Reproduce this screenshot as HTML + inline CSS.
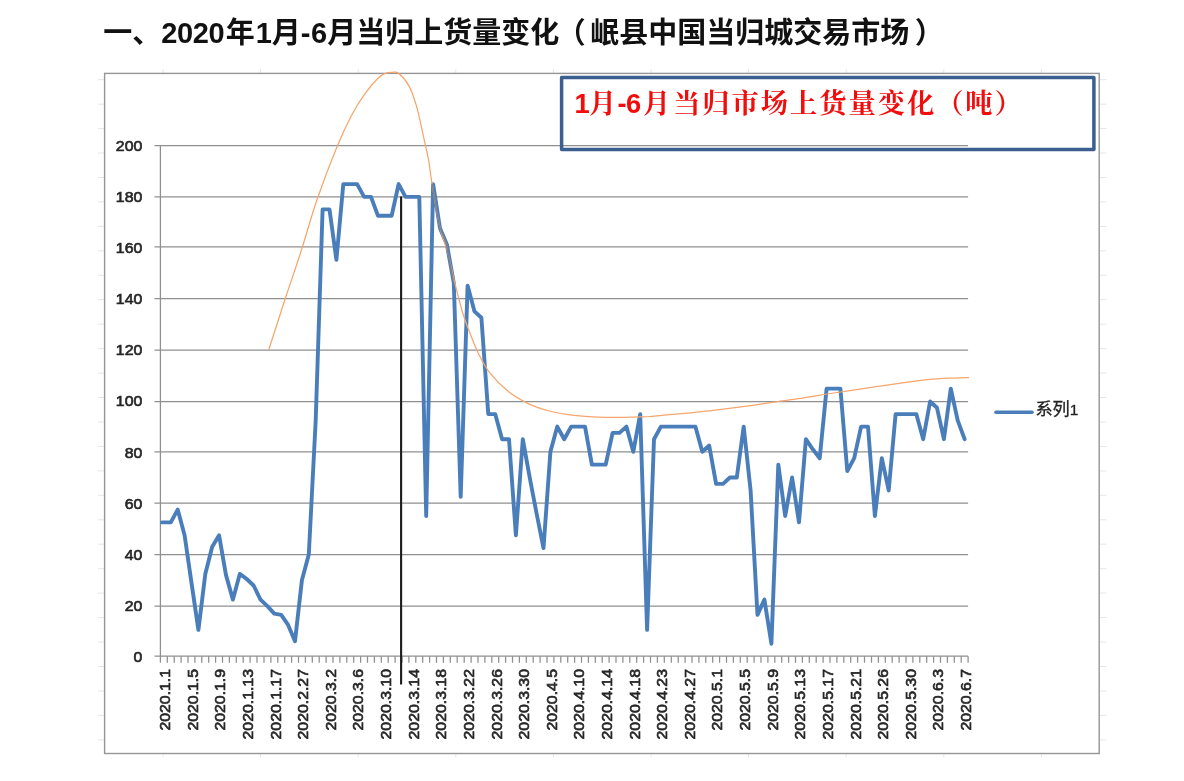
<!DOCTYPE html>
<html lang="zh-CN">
<head>
<meta charset="utf-8">
<title>2020年1月-6月当归上货量变化</title>
<style>
html,body{margin:0;padding:0;background:#fff;}
body{width:1184px;height:781px;overflow:hidden;position:relative;font-family:"Liberation Sans","Noto Sans CJK SC",sans-serif;}
svg{position:absolute;left:0;top:0;display:block;filter:blur(0.4px);}
.title{font-family:"Liberation Sans","Noto Sans CJK SC",sans-serif;font-weight:bold;font-size:29px;fill:#111;}
.ax{font-family:"Liberation Sans","Noto Sans CJK SC",sans-serif;font-size:15px;fill:#262626;stroke:#262626;stroke-width:0.65px;}
.lg{font-family:"Liberation Sans","Noto Sans CJK SC",sans-serif;font-size:17.2px;fill:#222;stroke:#222;stroke-width:0.3px;}
.red{font-family:"Liberation Sans","Noto Serif CJK SC",serif;font-weight:bold;font-size:27.3px;fill:#f20d0d;}
</style>
</head>
<body>
<svg width="1184" height="781" viewBox="0 0 1184 781">
<rect x="0" y="0" width="1184" height="781" fill="#ffffff"/>
<text class="title" x="103.3" y="42.6">一、<tspan letter-spacing="-0.4">2020</tspan><tspan dx="1.6">年</tspan><tspan dx="0.8">1</tspan>月-<tspan dx="0.6">6</tspan>月当归上货量变化<tspan dx="-2.5">（</tspan><tspan dx="4.5">岷</tspan>县中国当归城交易市场<tspan dx="5.5">）</tspan></text>
<g stroke="#e6e6e6" stroke-width="1" fill="none">
<path d="M163.0 69V73M163.0 753V757"/><path d="M260.6 69V73M260.6 753V757"/><path d="M358.2 69V73M358.2 753V757"/><path d="M455.8 69V73M455.8 753V757"/><path d="M553.4 69V73M553.4 753V757"/><path d="M651.0 69V73M651.0 753V757"/><path d="M748.6 69V73M748.6 753V757"/><path d="M846.2 69V73M846.2 753V757"/><path d="M943.8 69V73M943.8 753V757"/><path d="M1041.4 69V73M1041.4 753V757"/>
<path d="M1099 79.7H1106.5M98 79.7H104"/><path d="M1099 104.2H1106.5M98 104.2H104"/><path d="M1099 128.6H1106.5M98 128.6H104"/><path d="M1099 153.0H1106.5M98 153.0H104"/><path d="M1099 177.5H1106.5M98 177.5H104"/><path d="M1099 201.9H1106.5M98 201.9H104"/><path d="M1099 226.4H1106.5M98 226.4H104"/><path d="M1099 250.8H1106.5M98 250.8H104"/><path d="M1099 275.3H1106.5M98 275.3H104"/><path d="M1099 299.7H1106.5M98 299.7H104"/><path d="M1099 324.2H1106.5M98 324.2H104"/><path d="M1099 348.6H1106.5M98 348.6H104"/><path d="M1099 373.1H1106.5M98 373.1H104"/><path d="M1099 397.5H1106.5M98 397.5H104"/><path d="M1099 422.0H1106.5M98 422.0H104"/><path d="M1099 446.4H1106.5M98 446.4H104"/><path d="M1099 470.9H1106.5M98 470.9H104"/><path d="M1099 495.3H1106.5M98 495.3H104"/><path d="M1099 519.8H1106.5M98 519.8H104"/><path d="M1099 544.2H1106.5M98 544.2H104"/><path d="M1099 568.7H1106.5M98 568.7H104"/><path d="M1099 593.1H1106.5M98 593.1H104"/><path d="M1099 617.6H1106.5M98 617.6H104"/><path d="M1099 642.1H1106.5M98 642.1H104"/><path d="M1099 666.5H1106.5M98 666.5H104"/><path d="M1099 691.0H1106.5M98 691.0H104"/><path d="M1099 715.4H1106.5M98 715.4H104"/><path d="M1099 739.9H1106.5M98 739.9H104"/>
</g>
<rect x="104.6" y="73.4" width="994.6" height="680.1" fill="#fff" stroke="#959595" stroke-width="1.4"/>
<g stroke="#8f8f8f" stroke-width="1.25" fill="none">
<path d="M154.5 656.2H968.1"/><path d="M154.5 606.1H968.1"/><path d="M154.5 554.5H968.1"/><path d="M154.5 503.2H968.1"/><path d="M154.5 451.8H968.1"/><path d="M154.5 401.5H968.1"/><path d="M154.5 350.0H968.1"/><path d="M154.5 298.5H968.1"/><path d="M154.5 246.9H968.1"/><path d="M154.5 196.9H968.1"/><path d="M154.5 145.5H968.1"/>
<path d="M160.4 145.5V656.8"/>
<path d="M160.4 656.3v6.5M167.3 656.3v6.5M174.2 656.3v6.5M181.1 656.3v6.5M188.0 656.3v6.5M194.9 656.3v6.5M201.8 656.3v6.5M208.7 656.3v6.5M215.6 656.3v6.5M222.5 656.3v6.5M229.4 656.3v6.5M236.3 656.3v6.5M243.2 656.3v6.5M250.1 656.3v6.5M257.0 656.3v6.5M264.0 656.3v6.5M270.9 656.3v6.5M277.8 656.3v6.5M284.7 656.3v6.5M291.6 656.3v6.5M298.5 656.3v6.5M305.4 656.3v6.5M312.3 656.3v6.5M319.2 656.3v6.5M326.1 656.3v6.5M333.0 656.3v6.5M339.9 656.3v6.5M346.8 656.3v6.5M353.7 656.3v6.5M360.6 656.3v6.5M367.5 656.3v6.5M374.4 656.3v6.5M381.3 656.3v6.5M388.2 656.3v6.5M395.1 656.3v6.5M402.0 656.3v6.5M408.9 656.3v6.5M415.8 656.3v6.5M422.7 656.3v6.5M429.6 656.3v6.5M436.5 656.3v6.5M443.4 656.3v6.5M450.3 656.3v6.5M457.2 656.3v6.5M464.2 656.3v6.5M471.1 656.3v6.5M478.0 656.3v6.5M484.9 656.3v6.5M491.8 656.3v6.5M498.7 656.3v6.5M505.6 656.3v6.5M512.5 656.3v6.5M519.4 656.3v6.5M526.3 656.3v6.5M533.2 656.3v6.5M540.1 656.3v6.5M547.0 656.3v6.5M553.9 656.3v6.5M560.8 656.3v6.5M567.7 656.3v6.5M574.6 656.3v6.5M581.5 656.3v6.5M588.4 656.3v6.5M595.3 656.3v6.5M602.2 656.3v6.5M609.1 656.3v6.5M616.0 656.3v6.5M622.9 656.3v6.5M629.8 656.3v6.5M636.7 656.3v6.5M643.6 656.3v6.5M650.5 656.3v6.5M657.4 656.3v6.5M664.3 656.3v6.5M671.3 656.3v6.5M678.2 656.3v6.5M685.1 656.3v6.5M692.0 656.3v6.5M698.9 656.3v6.5M705.8 656.3v6.5M712.7 656.3v6.5M719.6 656.3v6.5M726.5 656.3v6.5M733.4 656.3v6.5M740.3 656.3v6.5M747.2 656.3v6.5M754.1 656.3v6.5M761.0 656.3v6.5M767.9 656.3v6.5M774.8 656.3v6.5M781.7 656.3v6.5M788.6 656.3v6.5M795.5 656.3v6.5M802.4 656.3v6.5M809.3 656.3v6.5M816.2 656.3v6.5M823.1 656.3v6.5M830.0 656.3v6.5M836.9 656.3v6.5M843.8 656.3v6.5M850.7 656.3v6.5M857.6 656.3v6.5M864.5 656.3v6.5M871.5 656.3v6.5M878.4 656.3v6.5M885.3 656.3v6.5M892.2 656.3v6.5M899.1 656.3v6.5M906.0 656.3v6.5M912.9 656.3v6.5M919.8 656.3v6.5M926.7 656.3v6.5M933.6 656.3v6.5M940.5 656.3v6.5M947.4 656.3v6.5M954.3 656.3v6.5M961.2 656.3v6.5M968.1 656.3v6.5"/>
</g>
<g class="ax" text-anchor="end">
<text x="142.3" y="661.7" textLength="8.8" lengthAdjust="spacingAndGlyphs">0</text><text x="142.3" y="610.6" textLength="17.6" lengthAdjust="spacingAndGlyphs">20</text><text x="142.3" y="559.6" textLength="17.6" lengthAdjust="spacingAndGlyphs">40</text><text x="142.3" y="508.5" textLength="17.6" lengthAdjust="spacingAndGlyphs">60</text><text x="142.3" y="457.5" textLength="17.6" lengthAdjust="spacingAndGlyphs">80</text><text x="142.3" y="406.4" textLength="26.5" lengthAdjust="spacingAndGlyphs">100</text><text x="142.3" y="355.3" textLength="26.5" lengthAdjust="spacingAndGlyphs">120</text><text x="142.3" y="304.3" textLength="26.5" lengthAdjust="spacingAndGlyphs">140</text><text x="142.3" y="253.2" textLength="26.5" lengthAdjust="spacingAndGlyphs">160</text><text x="142.3" y="202.2" textLength="26.5" lengthAdjust="spacingAndGlyphs">180</text><text x="142.3" y="151.1" textLength="26.5" lengthAdjust="spacingAndGlyphs">200</text>
</g>
<g class="ax" text-anchor="end">
<text transform="translate(170.2 669.0) rotate(-90)" textLength="61.5" lengthAdjust="spacingAndGlyphs">2020.1.1</text><text transform="translate(197.8 669.0) rotate(-90)" textLength="61.5" lengthAdjust="spacingAndGlyphs">2020.1.5</text><text transform="translate(225.4 669.0) rotate(-90)" textLength="61.5" lengthAdjust="spacingAndGlyphs">2020.1.9</text><text transform="translate(253.0 669.0) rotate(-90)" textLength="70.5" lengthAdjust="spacingAndGlyphs">2020.1.13</text><text transform="translate(280.6 669.0) rotate(-90)" textLength="70.5" lengthAdjust="spacingAndGlyphs">2020.1.17</text><text transform="translate(308.2 669.0) rotate(-90)" textLength="70.5" lengthAdjust="spacingAndGlyphs">2020.2.27</text><text transform="translate(335.8 669.0) rotate(-90)" textLength="61.5" lengthAdjust="spacingAndGlyphs">2020.3.2</text><text transform="translate(363.4 669.0) rotate(-90)" textLength="61.5" lengthAdjust="spacingAndGlyphs">2020.3.6</text><text transform="translate(391.1 669.0) rotate(-90)" textLength="70.5" lengthAdjust="spacingAndGlyphs">2020.3.10</text><text transform="translate(418.7 669.0) rotate(-90)" textLength="70.5" lengthAdjust="spacingAndGlyphs">2020.3.14</text><text transform="translate(446.3 669.0) rotate(-90)" textLength="70.5" lengthAdjust="spacingAndGlyphs">2020.3.18</text><text transform="translate(473.9 669.0) rotate(-90)" textLength="70.5" lengthAdjust="spacingAndGlyphs">2020.3.22</text><text transform="translate(501.5 669.0) rotate(-90)" textLength="70.5" lengthAdjust="spacingAndGlyphs">2020.3.26</text><text transform="translate(529.1 669.0) rotate(-90)" textLength="70.5" lengthAdjust="spacingAndGlyphs">2020.3.30</text><text transform="translate(556.7 669.0) rotate(-90)" textLength="61.5" lengthAdjust="spacingAndGlyphs">2020.4.5</text><text transform="translate(584.4 669.0) rotate(-90)" textLength="70.5" lengthAdjust="spacingAndGlyphs">2020.4.10</text><text transform="translate(612.0 669.0) rotate(-90)" textLength="70.5" lengthAdjust="spacingAndGlyphs">2020.4.14</text><text transform="translate(639.6 669.0) rotate(-90)" textLength="70.5" lengthAdjust="spacingAndGlyphs">2020.4.18</text><text transform="translate(667.2 669.0) rotate(-90)" textLength="70.5" lengthAdjust="spacingAndGlyphs">2020.4.23</text><text transform="translate(694.8 669.0) rotate(-90)" textLength="70.5" lengthAdjust="spacingAndGlyphs">2020.4.27</text><text transform="translate(722.4 669.0) rotate(-90)" textLength="61.5" lengthAdjust="spacingAndGlyphs">2020.5.1</text><text transform="translate(750.0 669.0) rotate(-90)" textLength="61.5" lengthAdjust="spacingAndGlyphs">2020.5.5</text><text transform="translate(777.7 669.0) rotate(-90)" textLength="61.5" lengthAdjust="spacingAndGlyphs">2020.5.9</text><text transform="translate(805.3 669.0) rotate(-90)" textLength="70.5" lengthAdjust="spacingAndGlyphs">2020.5.13</text><text transform="translate(832.9 669.0) rotate(-90)" textLength="70.5" lengthAdjust="spacingAndGlyphs">2020.5.17</text><text transform="translate(860.5 669.0) rotate(-90)" textLength="70.5" lengthAdjust="spacingAndGlyphs">2020.5.21</text><text transform="translate(888.1 669.0) rotate(-90)" textLength="70.5" lengthAdjust="spacingAndGlyphs">2020.5.26</text><text transform="translate(915.7 669.0) rotate(-90)" textLength="70.5" lengthAdjust="spacingAndGlyphs">2020.5.30</text><text transform="translate(943.3 669.0) rotate(-90)" textLength="61.5" lengthAdjust="spacingAndGlyphs">2020.6.3</text><text transform="translate(970.9 669.0) rotate(-90)" textLength="61.5" lengthAdjust="spacingAndGlyphs">2020.6.7</text>
</g>
<path d="M401.1 196.5V684.4" stroke="#1c1c1c" stroke-width="2.1" fill="none"/>
<polyline points="162.0,522.4 163.9,522.4 170.8,522.4 177.7,509.6 184.6,535.3 191.5,582.9 198.4,629.9 205.3,573.9 212.2,546.8 219.1,535.3 226.0,575.1 232.9,599.6 239.8,573.9 246.7,579.0 253.6,585.5 260.5,599.6 267.4,606.1 274.3,613.6 281.2,614.9 288.1,624.9 295.0,641.2 301.9,580.3 308.8,554.5 315.7,420.4 322.6,209.4 329.5,209.4 336.4,259.8 343.3,184.1 350.2,184.1 357.1,184.1 364.1,196.9 371.0,196.9 377.9,215.7 384.8,215.7 391.7,215.7 398.6,184.1 405.5,196.9 412.4,196.9 419.3,196.9 426.2,516.0 433.1,184.1 440.0,228.2 446.9,244.4 453.8,283.0 460.7,496.8 467.6,285.6 474.5,311.4 481.4,317.8 488.3,414.1 495.2,414.1 502.1,439.2 509.0,439.2 515.9,535.3 522.8,439.2 529.7,477.5 536.6,513.5 543.5,548.1 550.4,451.8 557.3,426.6 564.2,439.2 571.2,426.6 578.1,426.6 585.0,426.6 591.9,464.6 598.8,464.6 605.7,464.6 612.6,432.9 619.5,432.9 626.4,426.6 633.3,451.8 640.2,414.1 647.1,629.9 654.0,439.2 660.9,426.6 667.8,426.6 674.7,426.6 681.6,426.6 688.5,426.6 695.4,426.6 702.3,451.8 709.2,445.5 716.1,483.9 723.0,483.9 729.9,477.5 736.8,477.5 743.7,426.6 750.6,490.4 757.5,614.9 764.4,599.6 771.4,643.7 778.3,464.6 785.2,516.0 792.1,477.5 799.0,522.4 805.9,439.2 812.8,449.3 819.7,458.2 826.6,388.6 833.5,388.6 840.4,388.6 847.3,471.1 854.2,458.2 861.1,426.6 868.0,426.6 874.9,516.0 881.8,458.2 888.7,490.4 895.6,414.1 902.5,414.1 909.4,414.1 916.3,414.1 923.2,439.2 930.1,401.5 937.0,407.8 943.9,439.2 950.8,388.6 957.7,420.4 964.6,439.2" fill="none" stroke="#4a7ebb" stroke-width="3.9" stroke-linejoin="round" stroke-linecap="round"/>
<path d="M268.8 349.8 C271.7 340.8 280.7 312.6 286.1 296.0 C291.6 279.4 296.4 265.9 301.5 249.9 C306.6 233.9 311.0 217.2 316.9 200.0 C322.8 182.8 331.2 160.9 337.1 146.5 C343.0 132.1 347.7 122.7 352.4 113.8 C357.1 104.9 360.9 99.2 365.2 93.3 C369.5 87.4 374.6 81.5 378.0 78.2 C381.4 74.9 383.4 74.2 385.7 73.2 C388.0 72.2 389.9 72.4 392.0 72.4 C394.1 72.4 395.7 71.0 398.5 73.2 C401.3 75.4 405.8 80.1 408.8 85.6 C411.8 91.1 413.9 97.1 416.5 106.1 C419.1 115.1 422.1 130.4 424.1 139.4 C426.1 148.4 427.3 152.6 428.6 160.0 C429.9 167.4 430.2 172.8 432.1 184.0 C434.0 195.2 437.2 215.7 439.8 226.9 C442.4 238.2 444.9 241.9 447.5 251.5 C450.1 261.1 452.6 274.2 455.2 284.5 C457.8 294.8 460.3 305.2 462.9 313.5 C465.4 321.8 467.9 327.8 470.5 334.4 C473.1 341.0 475.0 346.6 478.2 353.0 C481.4 359.4 484.7 366.4 489.8 372.9 C494.9 379.4 502.6 387.0 509.0 392.1 C515.4 397.2 521.8 400.5 528.2 403.6 C534.6 406.7 541.0 408.7 547.4 410.5 C553.8 412.3 560.2 413.4 566.6 414.4 C573.0 415.4 578.8 415.8 585.8 416.3 C592.8 416.8 599.9 417.3 608.9 417.4 C617.9 417.5 632.8 416.9 639.6 416.8 C646.5 416.7 639.7 417.4 650.0 416.5 C660.3 415.6 684.1 413.6 701.2 411.7 C718.3 409.8 739.6 407.0 752.4 405.3 C765.2 403.6 769.5 402.8 778.0 401.5 C786.5 400.2 795.5 399.1 803.6 397.8 C811.8 396.6 819.2 395.2 826.9 394.0 C834.6 392.8 837.4 392.5 850.0 390.6 C862.6 388.7 889.4 384.6 902.4 382.8 C915.4 381.0 920.1 380.4 928.0 379.6 C935.9 378.8 943.2 378.5 950.0 378.2 C956.8 377.9 965.8 377.7 969.0 377.6" fill="none" stroke="#f5a56d" stroke-width="1.25"/>
<path d="M432.3 184.5L439.6 226.5L446.4 243.5L452.8 279" fill="none" stroke="#7d8391" stroke-width="1.6" stroke-linecap="round"/>
<path d="M996 412.3H1032" stroke="#4a7ebb" stroke-width="3.6" stroke-linecap="round" fill="none"/>
<text class="lg" x="1035.4" y="415.1">系列<tspan font-size="15.5">1</tspan></text>
<rect x="561.6" y="77.5" width="532.3" height="71.95" fill="none" stroke="#3b5f8f" stroke-width="3.5" stroke-linejoin="round"/>
<text class="red" y="113.4"><tspan x="574.5">1</tspan><tspan x="589">月</tspan><tspan x="617.5">-</tspan><tspan x="626">6</tspan><tspan x="643">月</tspan><tspan x="673" letter-spacing="1.94">当归市场上货量变化（吨）</tspan></text>
</svg>
</body>
</html>
